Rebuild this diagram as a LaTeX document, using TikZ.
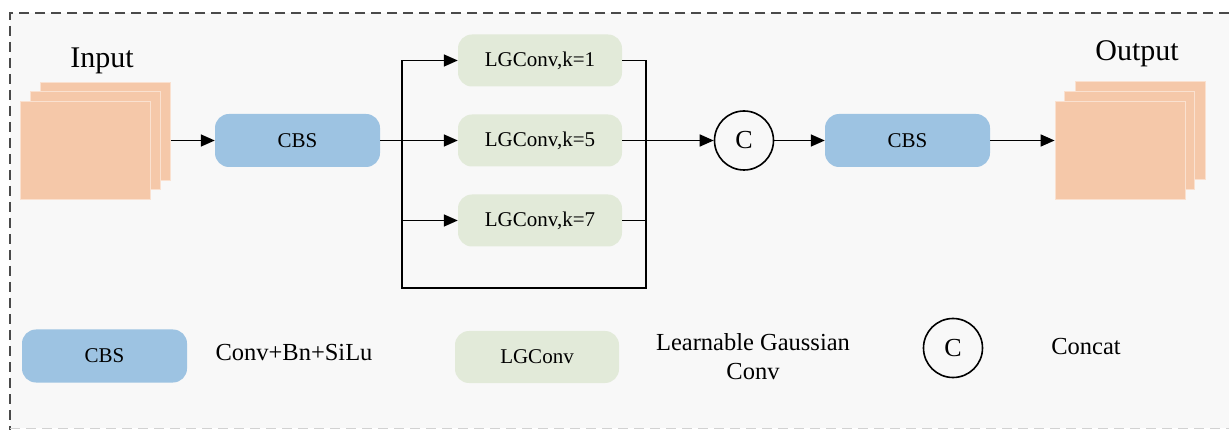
\documentclass[tikz,border=0pt]{standalone}
\usepackage{fontspec}
\setmainfont{Liberation Serif}
\usetikzlibrary{arrows.meta}
\definecolor{peach}{HTML}{F5C8A9}
\definecolor{cbsblue}{HTML}{9DC3E2}
\definecolor{lggreen}{HTML}{E2EAD9}
\definecolor{panel}{HTML}{F8F8F8}
\definecolor{frame}{HTML}{4A4A4A}
\begin{document}
\begin{tikzpicture}[x=1pt,y=-1pt,
  sheet/.style={fill=peach, draw=white!45!peach, line width=0.8pt,
    minimum width=130pt, minimum height=98pt, inner sep=0pt},
  cbsbox/.style={fill=cbsblue, rounded corners=14pt, minimum width=165pt,
    minimum height=53pt, inner sep=0pt, font=\fontsize{21}{25}\selectfont},
  lgbox/.style={fill=lggreen, rounded corners=14pt, minimum width=164pt,
    minimum height=52pt, inner sep=0pt, font=\fontsize{21}{25}\selectfont},
  catnode/.style={circle, draw, line width=1.6pt, minimum size=59pt,
    inner sep=0pt, font=\fontsize{26}{30}\selectfont},
  wire/.style={line width=1.6pt},
  arr/.style={wire, -{Triangle[length=14pt,width=12pt]}},
  title/.style={font=\fontsize{30}{36}\selectfont},
  legtext/.style={font=\fontsize{24.5}{29}\selectfont, align=center}
]
\useasboundingbox (0,0) rectangle (1229,430);

% panel and its dashed frame
\fill[panel] (10,13) rectangle (1229,428);
\draw[frame, line width=1.5pt, dash pattern=on 10pt off 6pt]
  (1229,13) -- (10,13) -- (10,430);
\draw[gray!35, line width=1pt, dash pattern=on 10pt off 6pt]
  (10,428) -- (1229,428);

% input feature maps
\node[sheet] (inB) at (105.5,131) {};
\node[sheet] (inM) at (95.5,140) {};
\node[sheet] (inF) at (85,150) {};
\node[title] (inT) at (102,61) {Input};

% main path
\node[cbsbox] (cbs1) at (297.5,140.5) {CBS};
\node[lgbox] (lg1) at (540,60.5) {LGConv,k=1};
\node[lgbox] (lg5) at (540,140.5) {LGConv,k=5};
\node[lgbox] (lg7) at (540,220.5) {LGConv,k=7};
\node[catnode] (cat) at (744,140.5) {C};
\node[cbsbox] (cbs2) at (907.5,140.5) {CBS};

% output feature maps
\node[sheet] (outB) at (1140,130.5) {};
\node[sheet] (outM) at (1129.5,140) {};
\node[sheet] (outF) at (1120,150) {};
\node[title] (outT) at (1137,54) {Output};

% connectors
\coordinate (split) at (402,140.5);
\coordinate (merge) at (646,140.5);
\coordinate (loopB) at (402,288);
\draw[arr] (inB.east |- cbs1.west) -- (cbs1.west);
\draw[wire] (cbs1.east) -- (split);
\draw[arr] (split) -- (lg5.west);
\draw[arr] (split) |- (lg1.west);
\draw[arr] (split) |- (lg7.west);
\draw[wire] (split) -- (loopB) -| (merge |- lg1.east) -- (lg1.east);
\draw[wire] (lg7.east) -- (merge |- lg7.east);
\draw[arr] (lg5.east) -- (cat.west);
\draw[arr] (cat.east) -- (cbs2.west);
\draw[arr] (cbs2.east) -- (cbs2.east -| outF.west);

% legend
\node[cbsbox] (lcbs) at (104.5,356) {CBS};
\node[legtext] (lcbsT) at (294,353) {Conv+Bn+SiLu};
\node[lgbox] (llg) at (537,357) {LGConv};
\node[legtext] (llgT) at (753,357) {Learnable Gaussian\\Conv};
\node[catnode] (lcat) at (953,348) {C};
\node[legtext] (lcatT) at (1086,347) {Concat};
\end{tikzpicture}
\end{document}
